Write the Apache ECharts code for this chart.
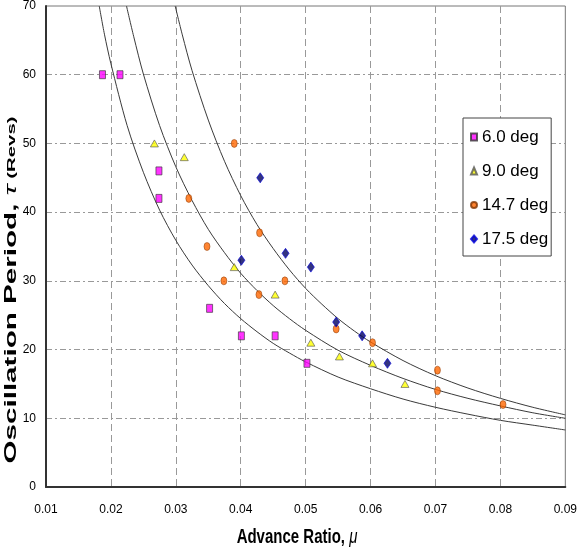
<!DOCTYPE html>
<html>
<head>
<meta charset="utf-8">
<script src="https://cdn.jsdelivr.net/npm/echarts@6/dist/echarts.min.js"></script>
<style>html,body{margin:0;padding:0;background:#fff}#c{width:580px;height:554px}</style>
</head>
<body>
<div id="c"></div>
<script>
// Scatter data [advance ratio, oscillation period]
const deg60 = [[0.0187,60],[0.0214,60],[0.0274,46],[0.0274,42],[0.0352,26],[0.0401,22],[0.0453,22],[0.0502,18]];
const deg90 = [[0.0267,50],[0.0313,48],[0.0390,32],[0.0453,28],[0.0508,21],[0.0552,19],[0.0603,18],[0.0653,15]];
const deg147 = [[0.0320,42],[0.0390,50],[0.0348,35],[0.0429,37],[0.0374,30],[0.0468,30],[0.0428,28],[0.0547,23],[0.0603,21],[0.0703,17],[0.0703,14],[0.0804,12]];
const deg175 = [[0.0430,45],[0.0401,33],[0.0469,34],[0.0508,32],[0.0547,24],[0.0587,22],[0.0626,18]];
// Fit curves
const fit1Mu  = [0.0182,0.019,0.02,0.0225,0.025,0.0275,0.03,0.0325,0.035,0.0375,0.04,0.0425,0.045,0.0475,0.05,0.055,0.06,0.065,0.07,0.075,0.08,0.085,0.09];
const fit1Tau = [70,65.9,61.6,52.6,45.8,40.3,35.9,32.3,29.3,26.7,24.5,22.6,20.9,19.5,18.2,16.0,14.3,12.8,11.6,10.6,9.7,9.0,8.3];
const fit2Mu  = [0.0224,0.0235,0.025,0.0275,0.03,0.0325,0.035,0.0375,0.04,0.0425,0.045,0.0475,0.05,0.055,0.06,0.065,0.07,0.075,0.08,0.085,0.09];
const fit2Tau = [70,65.6,60.1,52.6,46.6,41.7,37.5,34.1,31.1,28.6,26.4,24.5,22.8,19.9,17.7,15.8,14.2,12.9,11.8,10.8,10.0];
const fit3Mu  = [0.0299,0.031,0.0325,0.035,0.0375,0.04,0.0425,0.045,0.0475,0.05,0.0525,0.055,0.0575,0.06,0.065,0.07,0.075,0.08,0.085,0.09];
const fit3Tau = [70,65.8,60.6,53.4,47.4,42.4,38.2,34.7,31.6,28.9,26.6,24.5,22.7,21.1,18.4,16.2,14.4,12.9,11.6,10.5];
const legendNames = ['6.0 deg','9.0 deg','14.7 deg','17.5 deg'];

const zip = (a,b) => a.map((v,i)=>[v,b[i]]);
const fitStyle = (name, mu, tau) => ({
  name, type:'line', data: zip(mu,tau), showSymbol:false, smooth:0.3,
  lineStyle:{color:'#3a3a3a', width:1}, silent:true, z:1
});
const chart = echarts.init(document.getElementById('c'), null, {renderer:'canvas'});
const FONT = "'Liberation Sans', Arial, sans-serif";
chart.setOption({
  animation:false,
  backgroundColor:'#fff',
  grid:{left:46, right:9, top:6, bottom:67, show:true, borderColor:'#777', borderWidth:1, backgroundColor:'transparent'},
  xAxis:{type:'value', min:0.01, max:0.09, interval:0.01,
    axisLine:{show:true, onZero:false, lineStyle:{color:'#333', width:2}},
    axisTick:{show:false},
    axisLabel:{fontSize:12, fontFamily:FONT, color:'#000', margin:17, formatter:v=>v.toFixed(2)},
    splitLine:{show:true, showMinLine:false, showMaxLine:false, lineStyle:{color:'#999', width:1, type:[7,4]}}
  },
  yAxis:{type:'value', min:0, max:70, interval:10,
    axisLine:{show:true, onZero:false, lineStyle:{color:'#333', width:2}},
    axisTick:{show:false},
    axisLabel:{fontSize:12, fontFamily:FONT, color:'#000', margin:10},
    splitLine:{show:true, showMinLine:false, showMaxLine:false, lineStyle:{color:'#999', width:1, type:[6,3,2,3]}}
  },
  legend:{data:legendNames, orient:'vertical', left:463, top:118, padding:[9,3,7,7], itemGap:14,
    itemWidth:6, itemHeight:7, backgroundColor:'#fff', borderColor:'#444', borderWidth:1,
    textStyle:{fontSize:17, lineHeight:20, fontFamily:FONT, color:'#000'}},
  graphic:[
    {type:'text', x:297, y:538, style:{text:'{a|Advance Ratio, }{b|μ}', align:'center', verticalAlign:'middle',
      rich:{a:{fontSize:15, fontWeight:'bold', fontFamily:FONT, fill:'#000'}, b:{fontSize:15, fontStyle:'italic', fontFamily:FONT, fill:'#000'}}},
      scaleY:1.3, originX:0, originY:0},
    {type:'text', x:12, y:290, rotation:Math.PI/2, scaleX:1.85,
      style:{text:'{a|Oscillation Period, }{b|τ}{c| (Revs)}', align:'center', verticalAlign:'middle',
      rich:{a:{fontSize:16, fontWeight:'bold', fontFamily:FONT, fill:'#000'}, b:{fontSize:16, fontStyle:'italic', fontFamily:FONT, fill:'#000'}, c:{fontSize:11, fontWeight:'bold', fontFamily:FONT, fill:'#000'}}}}
  ],
  series:[
    fitStyle('fit1', fit1Mu, fit1Tau),
    fitStyle('fit2', fit2Mu, fit2Tau),
    fitStyle('fit3', fit3Mu, fit3Tau),
    {name:legendNames[0], type:'scatter', data:deg60, symbol:'rect', symbolSize:[6,8], z:3,
      itemStyle:{color:'#ff00ff', borderColor:'#333', borderWidth:0.8}},
    {name:legendNames[1], type:'scatter', data:deg90, symbol:'triangle', symbolSize:[8,7], z:3,
      itemStyle:{color:'#ffff00', borderColor:'#555', borderWidth:0.8}},
    {name:legendNames[2], type:'scatter', data:deg147, symbol:'circle', symbolSize:[6,8], z:3,
      itemStyle:{color:'#ff6600', borderColor:'#803300', borderWidth:0.6}},
    {name:legendNames[3], type:'scatter', data:deg175, symbol:'diamond', symbolSize:[7,10], z:3,
      itemStyle:{color:'#000060', borderColor:'#0000dd', borderWidth:0.8}}
  ]
});
</script>
</body>
</html>
